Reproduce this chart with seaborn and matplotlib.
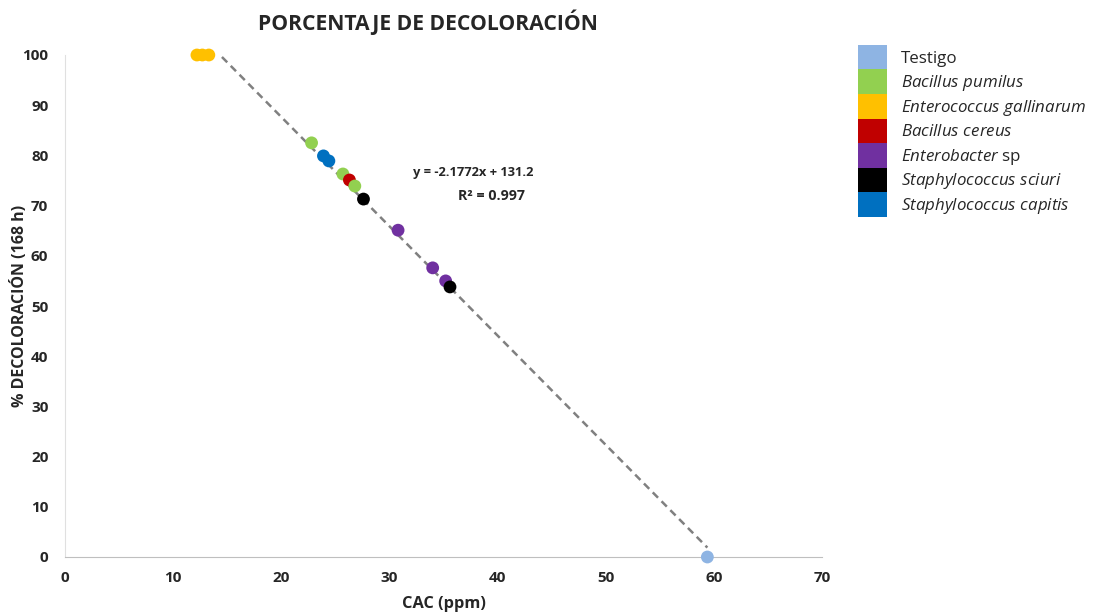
import numpy as np
import pandas as pd
import matplotlib
matplotlib.use("Agg")
import matplotlib.pyplot as plt
import seaborn as sns
from matplotlib.patches import Patch

# data
species = ["Testigo", "Bacillus pumilus", "Enterococcus gallinarum", "Bacillus cereus",
           "Enterobacter sp", "Staphylococcus sciuri", "Staphylococcus capitis"]
colors = ["#8EB4E3", "#92D050", "#FFC000", "#C00000", "#7030A0", "#000000", "#0070C0"]

point_species = ["Enterococcus gallinarum", "Enterococcus gallinarum", "Enterococcus gallinarum",
                 "Bacillus pumilus", "Staphylococcus capitis", "Staphylococcus capitis",
                 "Bacillus pumilus", "Bacillus cereus", "Bacillus pumilus",
                 "Staphylococcus sciuri", "Enterobacter sp", "Enterobacter sp",
                 "Enterobacter sp", "Staphylococcus sciuri", "Testigo"]
cac = [12.2, 12.7, 13.3, 22.8, 23.9, 24.4, 25.7, 26.3, 26.8, 27.6, 30.8, 34.0, 35.2, 35.6, 59.4]
decol = [100, 100, 100, 82.5, 79.9, 78.9, 76.3, 75.1, 73.9, 71.3, 65.1, 57.6, 55.0, 53.8, 0]

slope = -2.1772
intercept = 131.2
r2 = 0.997

df = pd.DataFrame({"CAC": cac, "Decol": decol, "Especie": point_species})
palette = dict(zip(species, colors))

sns.set_style("white")
plt.rcParams["font.family"] = ["Open Sans", "DejaVu Sans"]
plt.rcParams["mathtext.fontset"] = "custom"
plt.rcParams["mathtext.it"] = "Open Sans:italic"
plt.rcParams["mathtext.rm"] = "Open Sans"

fig = plt.figure(figsize=(11.19, 6.16), dpi=100)
ax = fig.add_axes([65 / 1119, 1 - 557 / 616, (822 - 65) / 1119, (557 - 55) / 616])

# trend line
xs = np.linspace(min(cac) + 1.5, max(cac), 100)
ax.plot(xs, slope * xs + intercept, color="#808080", linestyle=(0, (3, 2)), lw=1.8, zorder=1)

sns.scatterplot(data=df, x="CAC", y="Decol", hue="Especie", palette=palette,
                s=85, linewidth=0, legend=False, ax=ax, zorder=3, clip_on=False)

ax.set_xlim(0, 70)
ax.set_ylim(0, 100)
ax.set_xticks(range(0, 71, 10))
ax.set_yticks(range(0, 101, 10))
ax.tick_params(labelsize=11, length=0)
ax.tick_params(axis="y", pad=12)
ax.tick_params(axis="x", pad=10)
for lbl in ax.get_xticklabels() + ax.get_yticklabels():
    lbl.set_fontweight("bold")
    lbl.set_color("#262626")
ax.set_xlabel("CAC (ppm)", fontsize=11.8, fontweight="bold", color="#262626", labelpad=8)
ax.set_ylabel("% DECOLORACIÓN (168 h)", fontsize=11.5, fontweight="bold", color="#262626", labelpad=-4)

for s in ["top", "right"]:
    ax.spines[s].set_visible(False)
ax.spines["bottom"].set_color("#BFBFBF")
ax.spines["left"].set_color("#E0E0E0")

fig.text(428 / 1119, 1 - 22 / 616, "PORCENTAJE DE DECOLORACIÓN", ha="center", va="center",
         fontsize=15.2, fontweight="bold", color="#262626")

ax.text(37.7, 76.5, f"y = {slope}x + {intercept}", ha="center", va="center",
        fontsize=9.3, fontweight="bold", color="#262626")
ax.text(39.4, 71.9, f"R² = {r2}", ha="center", va="center",
        fontsize=10.3, fontweight="bold", color="#262626")

labels = ["Testigo", r"$\mathit{Bacillus\ pumilus}$", r"$\mathit{Enterococcus\ gallinarum}$",
          r"$\mathit{Bacillus\ cereus}$", r"$\mathit{Enterobacter}$ sp",
          r"$\mathit{Staphylococcus\ sciuri}$", r"$\mathit{Staphylococcus\ capitis}$"]
handles = [Patch(facecolor=c, edgecolor="none") for c in colors]
fig.legend(handles, labels, loc="upper left", bbox_to_anchor=(0.7605, 0.938),
           frameon=False, fontsize=12.2, handlelength=1.75, handleheight=1.85,
           labelspacing=0, handletextpad=0.8, borderaxespad=0, labelcolor="#262626")

fig.savefig("out.png", dpi=100)
